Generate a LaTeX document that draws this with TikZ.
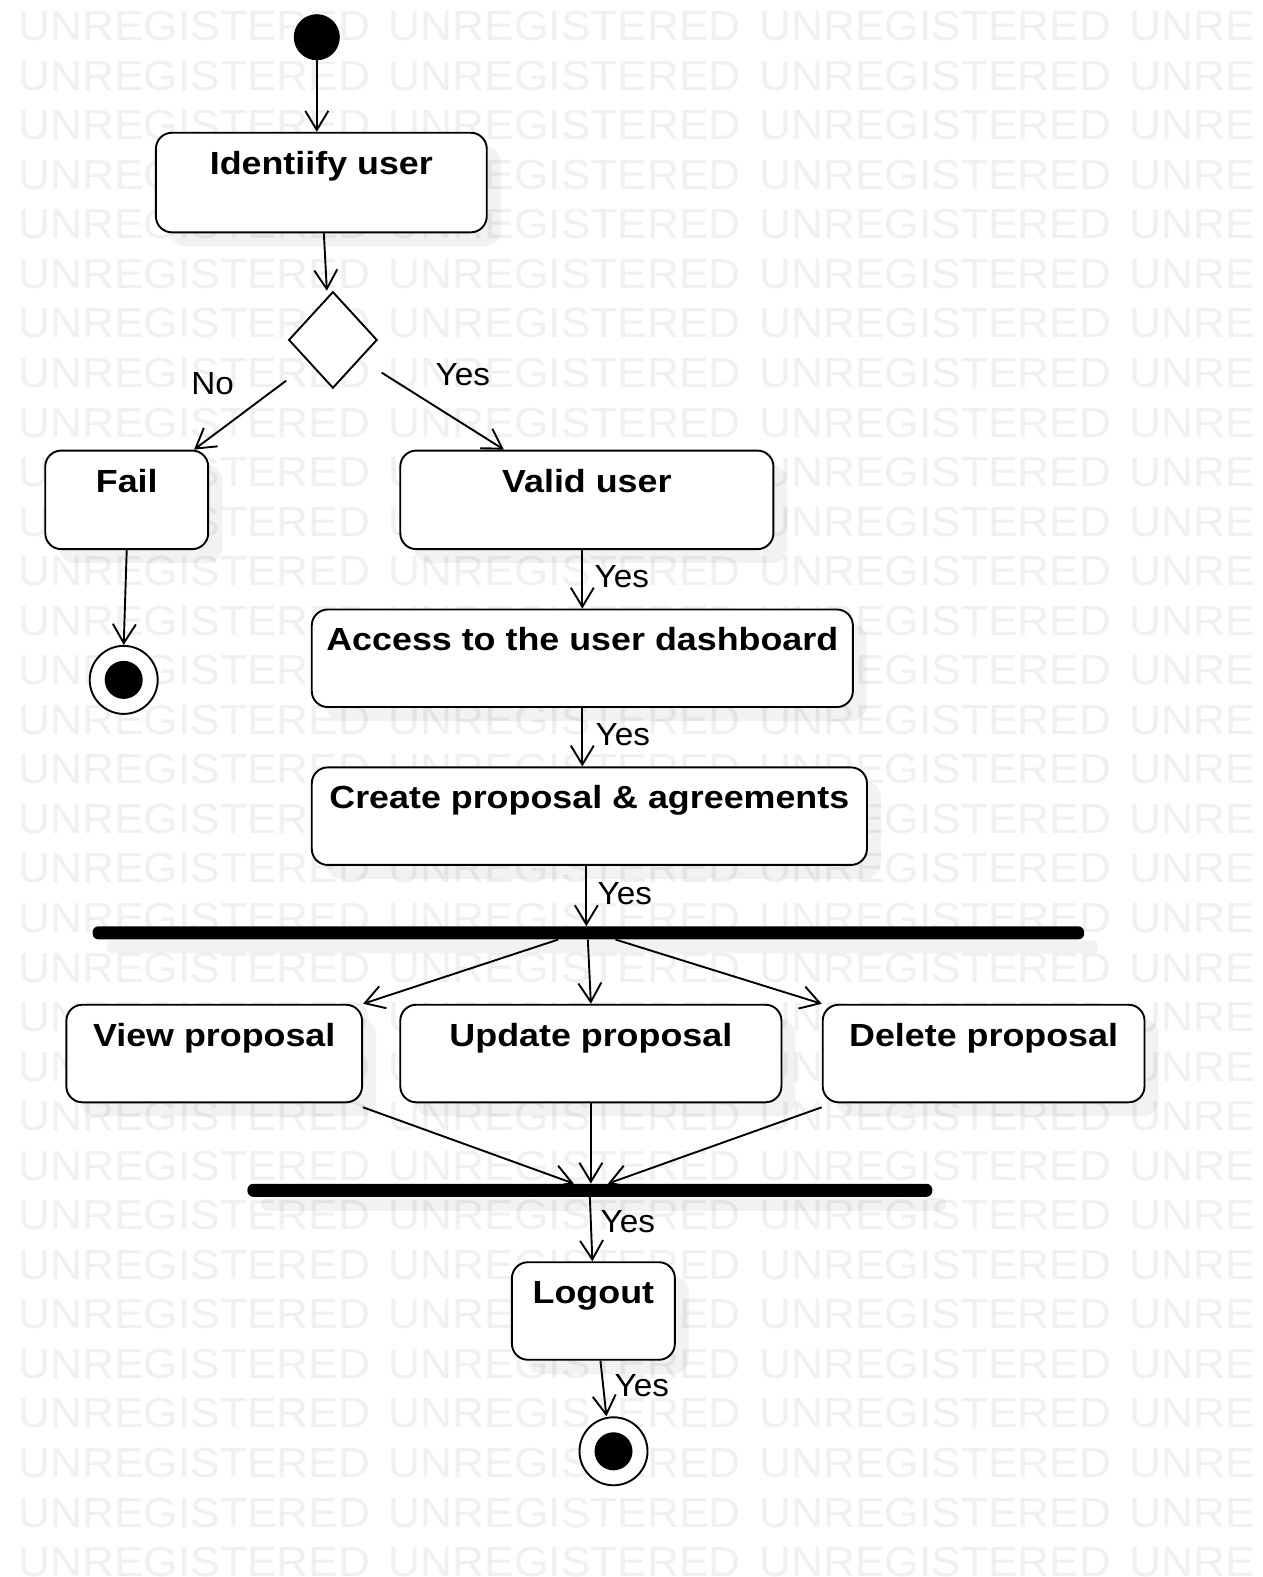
\documentclass[tikz,border=0pt]{standalone}
\usepackage{fontspec}
\setmainfont{Liberation Sans}
\newfontfamily\boxfont[FakeStretch=1.12]{Liberation Sans}
\newfontfamily\markfont[FakeStretch=1.055]{Liberation Sans}
\newfontfamily\guardfont[FakeStretch=1.04]{Liberation Sans}
\usetikzlibrary{arrows.meta,shapes.geometric,fit,calc,shadows}

\begin{document}
\begin{tikzpicture}[x=1.0056pt,y=-1.0056pt,
  flow/.style={line width=1.9pt,-{Straight Barb[length=19pt,width=23pt]}},
  activity/.style={draw,line width=1.9pt,rounded corners=16pt,fill=white,inner sep=0pt,
    drop shadow={fill=black,opacity=0.05,shadow xshift=14pt,shadow yshift=-14pt}},
  actlabel/.style={inner sep=0pt,anchor=base,font=\boxfont\bfseries\fontsize{32}{38}\selectfont},
  guard/.style={inner sep=0pt,anchor=base west,font=\guardfont\fontsize{32}{38}\selectfont},
  syncbar/.style={fill=black,rounded corners=6pt,inner sep=0pt,
    drop shadow={fill=black,opacity=0.05,shadow xshift=14pt,shadow yshift=-14pt}},
  initial/.style={circle,fill=black,minimum size=46pt,inner sep=0pt},
  final/.style={circle,draw,line width=1.9pt,fill=white,minimum size=68pt,inner sep=0pt,
    path picture={\fill[black] (path picture bounding box.center) circle[radius=19pt];}},
  choice/.style={diamond,draw,line width=1.9pt,fill=white,inner sep=0pt,
    minimum width=88.5pt,minimum height=96.5pt},
  wmark/.style={inner sep=0pt,anchor=base west,text=black!6,
    font=\markfont\fontsize{42}{48}\selectfont}
]
\useasboundingbox (0,0) rectangle (1255,1568);
\fill[white] (0,0) rectangle (1255,1568);

% background watermark rows
\begin{scope}
  \clip (0,0) rectangle (1246,1568);
  \foreach \r in {0,...,31}
    \foreach \c in {0,...,3}
      \node[wmark] (wm-\r-\c) at (18+368.3*\c,40.5+49.26*\r) {UNREGISTERED};
\end{scope}

% nodes
\node[initial] (start) at (315,37) {};
\node[activity,fit={(155,132) (484,231)}] (iu) {};
\node[actlabel] (iu-t) at ($(iu.north)+(0,42.5)$) {Identiify user};
\node[choice] (dec) at (331,338) {};

\node[activity,fit={(45,448) (207,546)}] (fail) {};
\node[actlabel] (fail-t) at ($(fail.north)+(0,42.5)$) {Fail};
\node[final] (end1) at (123,676) {};

\node[activity,fit={(398,448) (769,546)}] (valid) {};
\node[actlabel] (valid-t) at ($(valid.north)+(0,42.5)$) {Valid user};

\node[activity,fit={(310,606) (848,703)}] (access) {};
\node[actlabel] (access-t) at ($(access.north)+(0,42)$) {Access to the user dashboard};

\node[activity,fit={(310,763) (862,860)}] (create) {};
\node[actlabel] (create-t) at ($(create.north)+(0,42)$) {Create proposal \& agreements};

\node[syncbar,fit={(92,921) (1078,934)}] (fork) {};

\node[activity,fit={(66,999) (360,1096)}] (view) {};
\node[actlabel] (view-t) at ($(view.north)+(0,42)$) {View proposal};
\node[activity,fit={(398,999) (777,1096)}] (update) {};
\node[actlabel] (update-t) at ($(update.north)+(0,42)$) {Update proposal};
\node[activity,fit={(818,999) (1138,1096)}] (delete) {};
\node[actlabel] (delete-t) at ($(delete.north)+(0,42)$) {Delete proposal};

\node[syncbar,fit={(246,1177) (927,1190)}] (join) {};

\node[activity,fit={(509,1255) (671,1352)}] (logout) {};
\node[actlabel] (logout-t) at ($(logout.north)+(0,42)$) {Logout};
\node[final] (end2) at (610,1443) {};

% connectors
\draw[flow] (start.south) -- (start.south |- iu.north);
\draw[flow] ($(iu.south)+(2.5,0)$) -- ($(dec.north)+(-6,0)$);
\draw[flow] ($(dec.south west)+(-24,16)$) -- ($(fail.north east)+(-15,0)$);
\draw[flow] ($(dec.south east)+(26,8)$) -- ($(valid.north west)+(104,0)$);
\draw[flow] (fail.south) -- (end1.north);
\draw[flow] (access.north |- valid.south) -- (access.north);
\draw[flow] (access.south) -- (access.south |- create.north);
\draw[flow] ($(create.south)+(-3,0)$) -- ($(create.south |- fork.north)+(-3,0)$);
\draw[flow] ($(fork.south)+(-30,0)$) -- (view.north east);
\draw[flow] ($(update.north |- fork.south)+(-3,0)$) -- (update.north);
\draw[flow] ($(fork.south)+(27,0)$) -- (delete.north west);
\draw[flow] ($(view.south east)+(0,4)$) -- ($(join.north)+(-16,0)$);
\draw[flow] (update.south) -- (update.south |- join.north);
\draw[flow] ($(delete.south west)+(0,4)$) -- ($(join.north)+(18,0)$);
\draw[flow] (join.south) -- ($(logout.north)+(-1,0)$);
\draw[flow] ($(logout.south)+(7,0)$) -- ($(end2.north)+(-7,0)$);

% guard labels
\node[guard] (g-no) at (190,392.5) {No};
\node[guard] (g-yes1) at (433,383.5) {Yes};
\node[guard] (g-yes2) at (591,584.5) {Yes};
\node[guard] (g-yes3) at (592,741.5) {Yes};
\node[guard] (g-yes4) at (594,899.5) {Yes};
\node[guard] (g-yes5) at (597,1225.5) {Yes};
\node[guard] (g-yes6) at (611,1388.5) {Yes};
\end{tikzpicture}
\end{document}
